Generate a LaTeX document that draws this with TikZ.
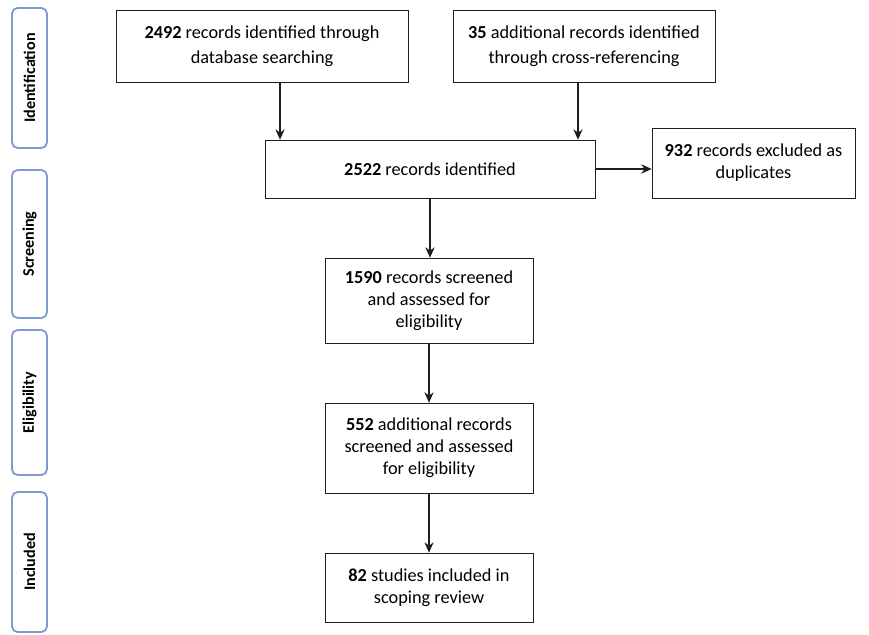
\documentclass[tikz,border=0pt]{standalone}
\usepackage{fontspec}
\setmainfont{Carlito}
\usetikzlibrary{arrows.meta,positioning}
\definecolor{ink}{RGB}{30,30,30}
\definecolor{phaseblue}{RGB}{125,155,205}
\tikzset{
  >={Stealth[length=2.6mm,width=2.3mm]},
  box/.style={draw=ink,fill=white,thin,align=center,inner sep=2pt,
    minimum width=#1,font=\fontsize{13}{15.5}\selectfont},
  box/.default=52mm,
  phase/.style={draw=phaseblue,fill=white,line width=1.3pt,rounded corners=4pt,
    rotate=90,minimum height=8.75mm,font=\fontsize{11.5}{13}\selectfont\bfseries},
  flow/.style={->,line width=1.1pt,draw=ink},
}
\begin{document}
\begin{tikzpicture}[x=0.025cm,y=-0.025cm]
  \useasboundingbox (0,0) rectangle (869,635);
  % stages on the left
  \foreach \y/\h/\t [count=\k] in {78/35/Identification,244/37/Screening,
    402.5/36.25/Eligibility,562/35/Included}
    \node[phase,minimum width=\h mm] (p\k) at (29.5,\y) {\t};
  % records
  \node[box=73mm,minimum height=18mm] (db) at (262,46) {\textbf{2492} records identified through\\[2pt]database searching};
  \node[box=65.5mm,minimum height=18mm] (xref) at (584,46) {\textbf{35} additional records identified\\[2pt]through cross-referencing};
  \node[box=82.5mm,minimum height=14.5mm] (ident) at (430,169) {\textbf{2522} records identified};
  \node[box=50.75mm,minimum height=17.5mm] (dup) at (753.5,163) {\textbf{932} records excluded as\\duplicates};
  \node[box,minimum height=21.25mm] (scr) at (429,300.5) {\textbf{1590} records screened\\and assessed for\\eligibility};
  \node[box,minimum height=22.5mm] (elig) at (429,448) {\textbf{552} additional records\\screened and assessed\\for eligibility};
  \node[box,minimum height=17.25mm] (incl) at (429,587.5) {\textbf{82} studies included in\\scoping review};
  \draw[flow] ([xshift=4.5mm]db.south) -- ([xshift=4.5mm]db.south |- ident.north);
  \draw[flow] ([xshift=-1.5mm]xref.south) -- ([xshift=-1.5mm]xref.south |- ident.north);
  \draw[flow] (ident.east) -- (dup.west |- ident.east);
  \draw[flow] (ident.south) -- (ident.south |- scr.north);
  \draw[flow] (scr.south) -- (elig.north);
  \draw[flow] (elig.south) -- (incl.north);
\end{tikzpicture}
\end{document}
